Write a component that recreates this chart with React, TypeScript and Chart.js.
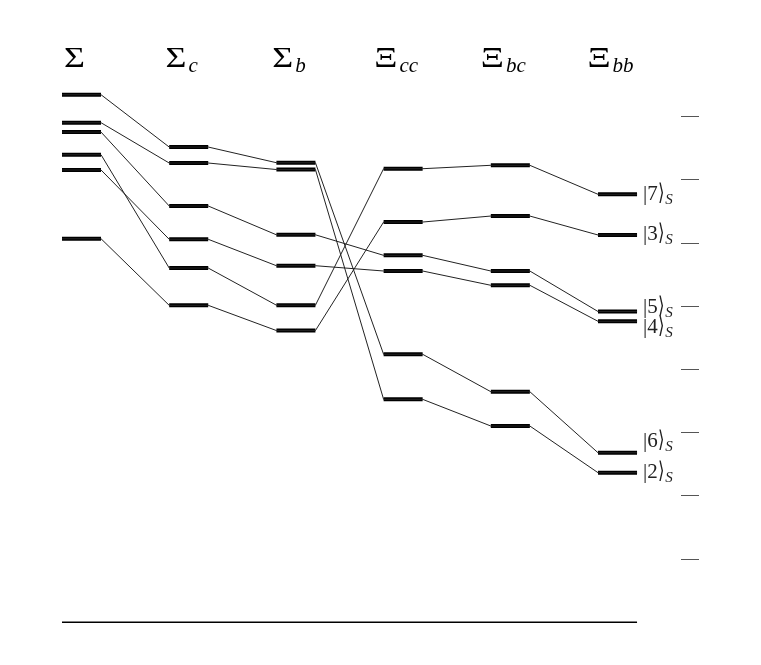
import React, { useEffect, useRef } from 'react';
import { Chart, registerables } from 'chart.js';

Chart.register(...registerables);

// Column headers (baryon families)
const columnSymbols = ['Σ', 'Σ', 'Σ', 'Ξ', 'Ξ', 'Ξ'];
const columnSubscripts = ['', 'c', 'b', 'cc', 'bc', 'bb'];

// State labels at the right-hand column
const stateNames = ['7', '3', '5', '4', '6', '2'];

// Level values for each state across the six columns
const state7 = [7.398, 5.605, 5.017, 7.177, 7.231, 6.772];
const state3 = [6.069, 5.015, 4.616, 6.333, 6.428, 6.128];
const state5 = [7.757, 6.587, 6.131, 5.806, 5.558, 4.917];
const state4 = [7.157, 6.06, 5.642, 5.558, 5.332, 4.762];
const state6 = [8.348, 7.52, 7.272, 4.24, 3.648, 2.682];
const state2 = [7.905, 7.267, 7.164, 3.527, 3.105, 2.366];

const states = [state7, state3, state5, state4, state6, state2];

// Right-hand scale tick values
const yTickValues = [1, 2, 3, 4, 5, 6, 7, 8];

// layout / style constants
const BAR = 0.364;
const Y_MIN = 0;
const Y_MAX = 8.6;
const X_MAX = 5.774;
const labelNudge = [0, 0, -4, 6.5, -11.5, 0];
const SERIF = '"Liberation Serif", "Times New Roman", serif';

function connectorData(vals: number[]) {
  const pts: { x: number; y: number }[] = [];
  vals.forEach((v, i) => {
    pts.push({ x: i, y: v });
    pts.push({ x: i + BAR, y: v });
  });
  return pts;
}

function barData(vals: number[]) {
  const pts: { x: number; y: number | null }[] = [];
  vals.forEach((v, i) => {
    pts.push({ x: i, y: v });
    pts.push({ x: i + BAR, y: v });
    pts.push({ x: i + BAR + 0.01, y: null });
  });
  return pts;
}

const textPlugin = {
  id: 'levelText',
  afterDraw(chart: any) {
    const ctx = chart.ctx as CanvasRenderingContext2D;
    const xs = chart.scales.x;
    const ys = chart.scales.y;
    const top = chart.chartArea.top;
    ctx.save();
    ctx.fillStyle = '#000';
    ctx.textBaseline = 'alphabetic';
    ctx.textAlign = 'left';
    // headers
    columnSymbols.forEach((sym, i) => {
      const sub = columnSubscripts[i];
      const cx = xs.getPixelForValue(i + BAR / 2) - 7;
      ctx.font = '30px ' + SERIF;
      const wG = ctx.measureText(sym).width * 1.2;
      ctx.font = 'italic 21px ' + SERIF;
      const wS = sub ? ctx.measureText(sub).width : 0;
      const gap = sub ? 2 : 0;
      const x = cx - (wG + gap + wS) / 2;
      const base = top - 11.5;
      ctx.save();
      ctx.translate(x, base);
      ctx.scale(1.2, 1);
      ctx.font = '30px ' + SERIF;
      ctx.fillText(sym, 0, 0);
      ctx.restore();
      if (sub) {
        ctx.font = 'italic 21px ' + SERIF;
        ctx.fillText(sub, x + wG + gap, base + 5);
      }
    });
    // state labels
    ctx.fillStyle = '#222';
    states.forEach((vals, k) => {
      const last = vals.length - 1;
      const x0 = xs.getPixelForValue(last + BAR) + 6;
      const y = ys.getPixelForValue(vals[last]) + 5.5 + labelNudge[k];
      ctx.font = '21px ' + SERIF;
      const main = '|' + stateNames[k];
      ctx.fillText(main, x0, y);
      const w1 = ctx.measureText(main).width;
      ctx.save();
      ctx.translate(x0 + w1, y);
      ctx.scale(0.8, 1.1);
      ctx.fillText('\u27E9', 0, 0);
      const w2 = ctx.measureText('\u27E9').width * 0.8;
      ctx.restore();
      ctx.font = 'italic 15px ' + SERIF;
      ctx.fillText('S', x0 + w1 + w2 + 1, y + 4);
    });
    ctx.restore();
  },
};

export default function App() {
  const ref = useRef<HTMLCanvasElement | null>(null);
  useEffect(() => {
    if (!ref.current) return;
    const datasets: any[] = [];
    states.forEach((vals) => {
      datasets.push({
        data: connectorData(vals),
        borderColor: '#222',
        borderWidth: 1,
        pointRadius: 0,
        fill: false,
        tension: 0,
      });
    });
    states.forEach((vals) => {
      datasets.push({
        data: barData(vals),
        borderColor: '#000',
        borderWidth: 4,
        borderCapStyle: 'butt',
        pointRadius: 0,
        fill: false,
        spanGaps: false,
        tension: 0,
      });
    });
    datasets.push({
      data: [
        { x: 0, y: Y_MIN },
        { x: columnSymbols.length - 1 + BAR, y: Y_MIN },
      ],
      borderColor: '#000',
      borderWidth: 1.5,
      pointRadius: 0,
      fill: false,
      clip: 4,
    });
    const chart = new Chart(ref.current, {
      type: 'line',
      data: { datasets },
      plugins: [textPlugin],
      options: {
        animation: false,
        responsive: false,
        events: [],
        layout: { padding: { left: 54, top: 70.8, bottom: 34.8, right: 54 } },
        plugins: { legend: { display: false }, tooltip: { enabled: false } },
        scales: {
          x: { type: 'linear', min: 0, max: X_MAX, display: false },
          y: {
            type: 'linear',
            position: 'right',
            min: Y_MIN,
            max: Y_MAX,
            afterBuildTicks: (s: any) => {
              s.ticks = yTickValues.map((v) => ({ value: v }));
            },
            afterFit: (s: any) => {
              s.width = 18;
            },
            ticks: { display: false },
            border: { display: false },
            grid: {
              drawOnChartArea: false,
              drawTicks: true,
              tickLength: 18,
              color: '#555',
              lineWidth: 1,
            },
          },
        },
      },
    });
    return () => chart.destroy();
  }, []);
  return (
    <div style={{ width: 745, height: 649 }}>
      <canvas ref={ref} width={745} height={649} style={{ width: 745, height: 649, display: 'block' }} />
    </div>
  );
}
